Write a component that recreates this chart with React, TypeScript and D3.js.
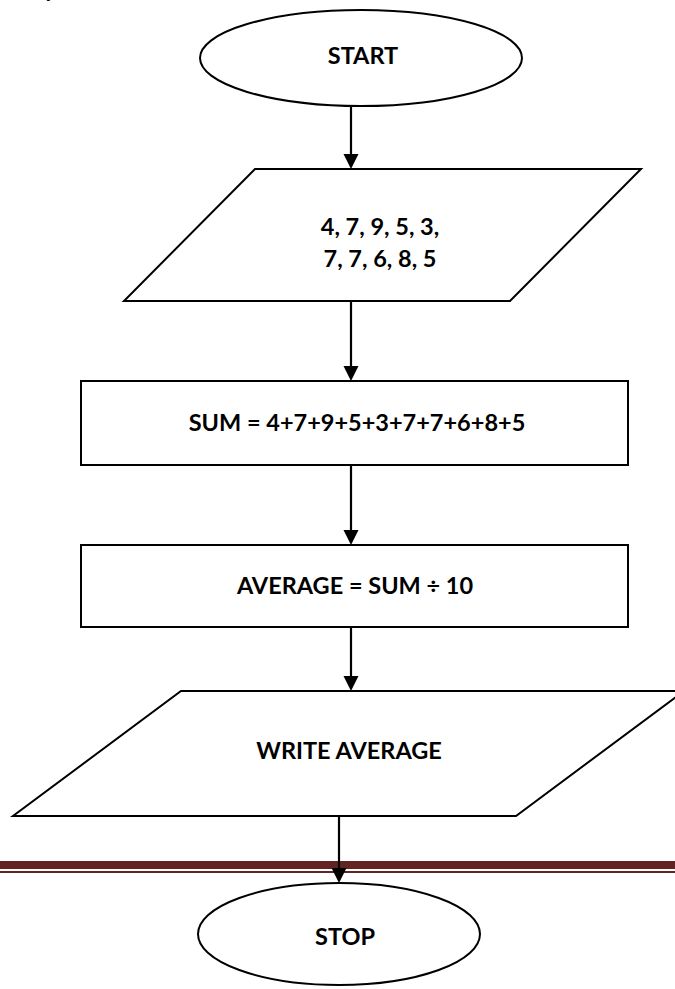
import React from "react";
import * as d3 from "d3";

// ---- data ----
const nodeKinds = ["terminal", "io", "process", "process", "io", "terminal"];
const nodeLabels: string[][] = [
  ["START"],
  ["4, 7, 9, 5, 3,", "7, 7, 6, 8, 5"],
  ["SUM = 4+7+9+5+3+7+7+6+8+5"],
  ["AVERAGE = SUM ÷ 10"],
  ["WRITE AVERAGE"],
  ["STOP"],
];
const edges: [number, number][] = [
  [0, 1],
  [1, 2],
  [2, 3],
  [3, 4],
  [4, 5],
];

// ---- layout (pixels) ----
const W = 675;
const H = 989;
const FONT = "Lato, 'Open Sans', sans-serif";
const FS = 23.5;

type Geo = {
  kind: string;
  cx?: number; cy?: number; rx?: number; ry?: number;
  x0?: number; x1?: number; y0?: number; y1?: number;
  tl?: number; tr?: number; bl?: number; br?: number;
  tx: number; baselines: number[];
};

const layout: Geo[] = [
  { kind: "terminal", cx: 361, cy: 58, rx: 161, ry: 48, tx: 363, baselines: [64] },
  { kind: "io", y0: 169, y1: 301, tl: 255, tr: 641, bl: 124, br: 510, tx: 380, baselines: [235, 267] },
  { kind: "process", x0: 81, x1: 628, y0: 381, y1: 465, tx: 357, baselines: [431] },
  { kind: "process", x0: 81, x1: 628, y0: 545, y1: 627, tx: 355, baselines: [594] },
  { kind: "io", y0: 691, y1: 816, tl: 181, tr: 684, bl: 13, br: 516, tx: 349, baselines: [759] },
  { kind: "terminal", cx: 339, cy: 934, rx: 141, ry: 51, tx: 345, baselines: [945] },
];

const arrowX = [351, 351, 351, 351, 339];
const ARROW_W = 15;
const ARROW_H = 15;

function top(g: Geo) {
  return g.kind === "terminal" ? g.cy! - g.ry! : g.y0!;
}
function bottom(g: Geo) {
  return g.kind === "terminal" ? g.cy! + g.ry! : g.y1!;
}

const line = d3.line<[number, number]>();

export default function App() {
  const shapes = layout.map((g, i) => {
    const label = nodeLabels[i];
    let shape: React.ReactNode = null;
    if (nodeKinds[i] === "terminal") {
      shape = (
        <ellipse cx={g.cx} cy={g.cy} rx={g.rx} ry={g.ry} fill="#fff" stroke="#000" strokeWidth={2} />
      );
    } else if (nodeKinds[i] === "io") {
      const pts: [number, number][] = [
        [g.tl!, g.y0!],
        [g.tr!, g.y0!],
        [g.br!, g.y1!],
        [g.bl!, g.y1!],
      ];
      shape = <path d={line(pts) + "Z"} fill="#fff" stroke="#000" strokeWidth={2} strokeLinejoin="miter" />;
    } else {
      shape = (
        <rect x={g.x0} y={g.y0} width={g.x1! - g.x0!} height={g.y1! - g.y0!} fill="#fff" stroke="#000" strokeWidth={2} />
      );
    }
    return (
      <g key={i}>
        {shape}
        {label.map((t, j) => (
          <text
            key={j}
            x={g.tx}
            y={g.baselines[j]}
            textAnchor="middle"
            fontFamily={FONT}
            fontWeight={700}
            fontSize={FS}
            fill="#000"
          >
            {t}
          </text>
        ))}
      </g>
    );
  });

  const arrows = edges.map(([a, b], i) => {
    const x = arrowX[i];
    const y0 = bottom(layout[a]);
    const y1 = top(layout[b]);
    const head: [number, number][] = [
      [x - ARROW_W / 2, y1 - ARROW_H],
      [x + ARROW_W / 2, y1 - ARROW_H],
      [x, y1],
    ];
    return (
      <g key={i}>
        <path d={line([[x, y0], [x, y1 - ARROW_H + 1]])!} stroke="#000" strokeWidth={2.2} fill="none" />
        <path d={line(head) + "Z"} fill="#000" stroke="none" />
      </g>
    );
  });

  return (
    <svg
      width={W}
      height={H}
      viewBox={`0 0 ${W} ${H}`}
      style={{ position: "absolute", left: 0, top: 0, background: "#fff" }}
    >
      <rect x={0} y={0} width={W} height={H} fill="#fff" />
      <text x={44} y={-3} fontFamily={FONT} fontWeight={700} fontSize={FS} fill="#000">y</text>
      {shapes}
      {/* footer rule */}
      <rect x={0} y={861} width={W} height={8} fill="#622423" />
      <rect x={0} y={871} width={W} height={2} fill="#622423" />
      {arrows}
    </svg>
  );
}
